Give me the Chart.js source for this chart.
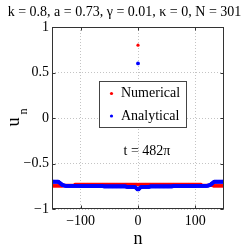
<!DOCTYPE html>
<html>
<head>
<meta charset="utf-8">
<script src="https://cdn.jsdelivr.net/npm/chart.js@4.4.0/dist/chart.umd.min.js"></script>
<style>
html, body { margin: 0; padding: 0; background: #fff; }
</style>
</head>
<body>
<canvas id="chart" width="249" height="249"></canvas>
<script>
// lattice sites n = -150 .. 150 (N = 301)
const nFirst = -150;

// u_n, one value per site
const numerical = [
  -0.745,-0.745,-0.745,-0.745,-0.745,-0.745,-0.745,-0.745,-0.745,-0.745,
  -0.745,-0.745,-0.745,-0.745,-0.745,-0.745,-0.745,-0.745,-0.745,-0.745,
  -0.74,-0.74,-0.74,-0.74,-0.74,-0.74,-0.74,-0.74,-0.74,-0.74,
  -0.74,-0.74,-0.74,-0.74,-0.74,-0.74,-0.74,-0.74,-0.74,-0.74,
  -0.73,-0.73,-0.73,-0.73,-0.73,-0.73,-0.73,-0.73,-0.73,-0.73,
  -0.73,-0.73,-0.73,-0.73,-0.73,-0.73,-0.73,-0.73,-0.73,-0.73,
  -0.73,-0.73,-0.73,-0.73,-0.73,-0.73,-0.73,-0.73,-0.73,-0.73,
  -0.73,-0.73,-0.73,-0.73,-0.73,-0.73,-0.73,-0.73,-0.73,-0.73,
  -0.73,-0.73,-0.73,-0.73,-0.73,-0.73,-0.73,-0.73,-0.73,-0.73,
  -0.73,-0.73,-0.73,-0.73,-0.73,-0.73,-0.73,-0.73,-0.73,-0.73,
  -0.73,-0.73,-0.73,-0.73,-0.73,-0.73,-0.73,-0.73,-0.73,-0.73,
  -0.73,-0.73,-0.73,-0.73,-0.73,-0.73,-0.73,-0.73,-0.73,-0.73,
  -0.73,-0.73,-0.73,-0.73,-0.73,-0.73,-0.73,-0.73,-0.73,-0.73,
  -0.73,-0.73,-0.73,-0.73,-0.73,-0.73,-0.73,-0.73,-0.73,-0.73,
  -0.73,-0.73,-0.73,-0.73,-0.73,-0.73,-0.73,-0.73,-0.73,-0.73,
  0.8,
  -0.73,-0.73,-0.73,-0.73,-0.73,-0.73,-0.73,-0.73,-0.73,-0.73,
  -0.73,-0.73,-0.73,-0.73,-0.73,-0.73,-0.73,-0.73,-0.73,-0.73,
  -0.73,-0.73,-0.73,-0.73,-0.73,-0.73,-0.73,-0.73,-0.73,-0.73,
  -0.73,-0.73,-0.73,-0.73,-0.73,-0.73,-0.73,-0.73,-0.73,-0.73,
  -0.73,-0.73,-0.73,-0.73,-0.73,-0.73,-0.73,-0.73,-0.73,-0.73,
  -0.73,-0.73,-0.73,-0.73,-0.73,-0.73,-0.73,-0.73,-0.73,-0.73,
  -0.73,-0.73,-0.73,-0.73,-0.73,-0.73,-0.73,-0.73,-0.73,-0.73,
  -0.73,-0.73,-0.73,-0.73,-0.73,-0.73,-0.73,-0.73,-0.73,-0.73,
  -0.73,-0.73,-0.73,-0.73,-0.73,-0.73,-0.73,-0.73,-0.73,-0.73,
  -0.73,-0.73,-0.73,-0.73,-0.73,-0.73,-0.73,-0.73,-0.73,-0.73,
  -0.73,-0.73,-0.73,-0.73,-0.73,-0.73,-0.73,-0.73,-0.73,-0.73,
  -0.74,-0.74,-0.74,-0.74,-0.74,-0.74,-0.74,-0.74,-0.74,-0.74,
  -0.74,-0.74,-0.74,-0.74,-0.74,-0.74,-0.74,-0.74,-0.74,-0.74,
  -0.745,-0.745,-0.745,-0.745,-0.745,-0.745,-0.745,-0.745,-0.745,-0.745,
  -0.745,-0.745,-0.745,-0.745,-0.745,-0.745,-0.745,-0.745,-0.745,-0.745
];

const analytical = [
  -0.70,-0.70,-0.70,-0.70,-0.70,-0.70,-0.70,-0.70,-0.70,-0.70,-0.70,-0.70,
  -0.705,-0.71,-0.715,-0.72,-0.725,-0.73,-0.735,-0.738,-0.74,-0.742,-0.743,-0.744,-0.745,
  -0.745,-0.745,-0.745,-0.745,-0.745,-0.745,-0.745,-0.745,-0.745,-0.745,
  -0.745,-0.745,-0.745,-0.745,-0.745,-0.745,-0.745,-0.745,-0.745,-0.745,
  -0.745,-0.745,-0.745,-0.745,-0.745,
  -0.748,-0.748,-0.748,-0.748,-0.748,-0.748,-0.748,-0.748,-0.748,-0.748,
  -0.748,-0.748,-0.748,-0.748,-0.748,-0.748,-0.748,-0.748,-0.748,-0.748,
  -0.748,-0.748,-0.748,-0.748,-0.748,-0.748,-0.748,-0.748,-0.748,-0.748,
  -0.748,-0.748,-0.748,-0.748,-0.748,-0.748,-0.748,-0.748,-0.748,-0.748,
  -0.752,-0.752,-0.752,-0.752,-0.752,-0.752,-0.752,-0.752,-0.752,-0.752,
  -0.752,-0.752,-0.752,-0.752,-0.752,-0.752,-0.752,-0.752,-0.752,-0.752,
  -0.752,-0.752,-0.752,-0.752,-0.752,-0.752,-0.752,-0.752,-0.752,-0.752,
  -0.752,-0.752,-0.752,-0.752,-0.752,-0.752,-0.752,-0.752,-0.752,-0.752,
  -0.756,-0.756,-0.756,-0.756,-0.756,-0.756,-0.756,-0.756,-0.756,-0.756,
  -0.756,-0.756,-0.756,-0.756,-0.756,
  -0.76,-0.765,-0.77,-0.775,
  -0.785,
  0.6,
  -0.785,
  -0.775,-0.77,-0.765,-0.76,
  -0.756,-0.756,-0.756,-0.756,-0.756,-0.756,-0.756,-0.756,-0.756,-0.756,
  -0.756,-0.756,-0.756,-0.756,-0.756,
  -0.752,-0.752,-0.752,-0.752,-0.752,-0.752,-0.752,-0.752,-0.752,-0.752,
  -0.752,-0.752,-0.752,-0.752,-0.752,-0.752,-0.752,-0.752,-0.752,-0.752,
  -0.752,-0.752,-0.752,-0.752,-0.752,-0.752,-0.752,-0.752,-0.752,-0.752,
  -0.752,-0.752,-0.752,-0.752,-0.752,-0.752,-0.752,-0.752,-0.752,-0.752,
  -0.748,-0.748,-0.748,-0.748,-0.748,-0.748,-0.748,-0.748,-0.748,-0.748,
  -0.748,-0.748,-0.748,-0.748,-0.748,-0.748,-0.748,-0.748,-0.748,-0.748,
  -0.748,-0.748,-0.748,-0.748,-0.748,-0.748,-0.748,-0.748,-0.748,-0.748,
  -0.748,-0.748,-0.748,-0.748,-0.748,-0.748,-0.748,-0.748,-0.748,-0.748,
  -0.745,-0.745,-0.745,-0.745,-0.745,-0.745,-0.745,-0.745,-0.745,-0.745,
  -0.745,-0.745,-0.745,-0.745,-0.745,-0.745,-0.745,-0.745,-0.745,-0.745,
  -0.744,-0.743,-0.742,-0.74,-0.738,-0.735,-0.73,-0.725,-0.72,-0.715,-0.71,-0.705,-0.70,
  -0.70,-0.70,-0.70,-0.70,-0.70,-0.70,-0.70,-0.70,-0.70,-0.70,
  -0.70,-0.70,-0.70,-0.70,-0.70,-0.70,-0.70
];

const xTicks = [-100, 0, 100];
const yTicks = [-1, -0.5, 0, 0.5, 1];
const seriesNames = ["Numerical", "Analytical"];
const seriesColors = ["#ff0000", "#0000ff"];
const titleText = "k = 0.8, a = 0.73, \u03b3 = 0.01, \u03ba = 0, N = 301";
const timeText = "t = 482\u03c0";

const SERIF = "'Liberation Serif', 'Times New Roman', serif";

function toPoints(vals) {
  return vals.map((v, i) => ({ x: nFirst + i, y: v }));
}
function minus(v) {
  return String(v).replace('-', '\u2212');
}

// box, inward ticks, title, labels and legend (matlab look)
const decor = {
  id: 'decor',
  afterDraw(chart) {
    const { ctx, chartArea: a, scales: { x, y } } = chart;
    const L = a.left + 0.5, R = a.right - 0.5, T = a.top + 0.5, B = a.bottom - 0.5;
    ctx.save();
    ctx.strokeStyle = '#333';
    ctx.lineWidth = 1;
    ctx.strokeRect(L, T, R - L, B - T);
    ctx.beginPath();
    yTicks.forEach(v => {
      const py = Math.round(y.getPixelForValue(v)) + 0.5;
      ctx.moveTo(L, py); ctx.lineTo(L + 3, py);
      ctx.moveTo(R, py); ctx.lineTo(R - 3, py);
    });
    xTicks.forEach(v => {
      const px = Math.round(x.getPixelForValue(v)) + 0.5;
      ctx.moveTo(px, B); ctx.lineTo(px, B - 3);
      ctx.moveTo(px, T); ctx.lineTo(px, T + 3);
    });
    ctx.stroke();

    ctx.fillStyle = '#000';
    ctx.textAlign = 'center';
    ctx.textBaseline = 'middle';
    ctx.font = '14px ' + SERIF;
    ctx.fillText(titleText, 124.5, 12, 240);
    ctx.font = '18px ' + SERIF;
    ctx.fillText('n', (a.left + a.right) / 2, 239);

    // y label u_n
    ctx.save();
    ctx.translate(14, 122);
    ctx.rotate(-Math.PI / 2);
    ctx.font = '18px ' + SERIF;
    ctx.fillText('u', 0, 0);
    ctx.font = '12px ' + SERIF;
    ctx.fillText('n', 10.5, 10);
    ctx.restore();

    // legend
    ctx.fillStyle = '#fff';
    ctx.fillRect(99.5, 81.5, 87, 46);
    ctx.strokeStyle = '#444';
    ctx.strokeRect(99.5, 81.5, 87, 46);
    const rows = [93.5, 116];
    seriesNames.forEach((name, i) => {
      ctx.fillStyle = seriesColors[i];
      ctx.beginPath();
      ctx.arc(111.5, rows[i], 1.6, 0, Math.PI * 2);
      ctx.fill();
      ctx.fillStyle = '#000';
      ctx.textAlign = 'left';
      ctx.font = '14px ' + SERIF;
      ctx.fillText(name, 121, rows[i]);
    });

    ctx.textAlign = 'center';
    ctx.fillText(timeText, 147, 151);
    ctx.restore();
  }
};

Chart.defaults.font.family = SERIF;
Chart.defaults.font.size = 14;
Chart.defaults.color = '#000';

new Chart(document.getElementById('chart'), {
  type: 'scatter',
  data: {
    datasets: [
      { label: seriesNames[1], data: toPoints(analytical), backgroundColor: seriesColors[1],
        borderWidth: 0, pointRadius: 1.9 },
      { label: seriesNames[0], data: toPoints(numerical), backgroundColor: seriesColors[0],
        borderWidth: 0, pointRadius: 1.6 }
    ]
  },
  options: {
    responsive: false,
    animation: false,
    layout: { padding: { top: 27, right: 25, left: 0, bottom: 0 } },
    plugins: { legend: { display: false }, tooltip: { enabled: false } },
    scales: {
      x: {
        type: 'linear', min: -150, max: 150,
        afterBuildTicks: s => { s.ticks = xTicks.map(v => ({ value: v })); },
        afterFit: s => { s.height = 40; },
        ticks: { padding: 4, maxRotation: 0, callback: v => minus(v) },
        grid: { color: '#c4c4c4', drawTicks: false },
        border: { display: false, dash: [1, 2] }
      },
      y: {
        min: -1, max: 1,
        afterBuildTicks: s => { s.ticks = yTicks.map(v => ({ value: v })); },
        afterFit: s => { s.width = 52; },
        ticks: { padding: 3, callback: v => minus(v) },
        grid: { color: '#c4c4c4', drawTicks: false },
        border: { display: false, dash: [1, 2] }
      }
    }
  },
  plugins: [decor]
});
</script>
</body>
</html>
